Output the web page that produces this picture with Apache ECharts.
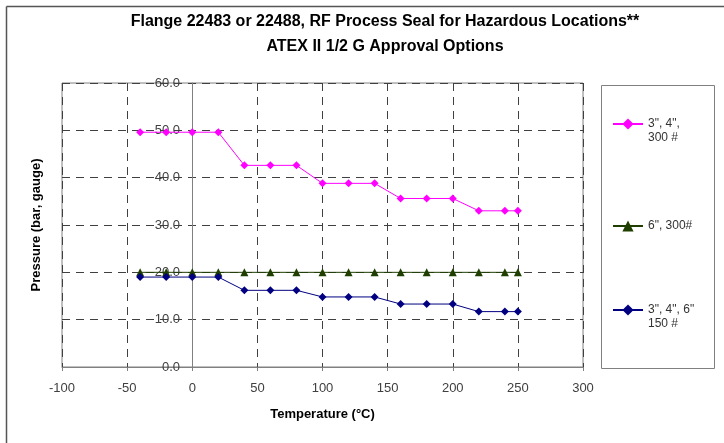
<!DOCTYPE html>
<html>
<head>
<meta charset="utf-8">
<script src="https://cdn.jsdelivr.net/npm/echarts@6/dist/echarts.min.js"></script>
<style>
html,body{margin:0;padding:0;background:#fff;}
#main{width:724px;height:443px;}
</style>
</head>
<body>
<div id="main"></div>
<script>
var titleText = 'Flange 22483 or 22488, RF Process Seal for Hazardous Locations**\nATEX II 1/2 G Approval Options';
var xName = 'Temperature (\u00B0C)';
var yName = 'Pressure (bar, gauge)';
var temps = [-40, -20, 0, 20, 40, 60, 80, 100, 120, 140, 160, 180, 200, 220, 240, 250];
var class300small = [49.6, 49.6, 49.6, 49.6, 42.6, 42.6, 42.6, 38.8, 38.8, 38.8, 35.6, 35.6, 35.6, 33.0, 33.0, 33.0];
var class300six = [20.0, 20.0, 20.0, 20.0, 20.0, 20.0, 20.0, 20.0, 20.0, 20.0, 20.0, 20.0, 20.0, 20.0, 20.0, 20.0];
var class150 = [19.0, 19.0, 19.0, 19.0, 16.2, 16.2, 16.2, 14.8, 14.8, 14.8, 13.3, 13.3, 13.3, 11.7, 11.7, 11.7];
var seriesNames = ['3", 4",\n300 #', '6", 300#', '3", 4", 6"\n150 #'];

function pairs(xs, ys) {
  return xs.map(function (x, i) { return [x, ys[i]]; });
}

var font = 'Arial, "Liberation Sans", sans-serif';
var chart = echarts.init(document.getElementById('main'), null, {renderer: 'canvas'});

function legendAt(name, top) {
  return {
    data: [name],
    left: 612, top: top, padding: 0,
    itemWidth: 30, itemHeight: 14, itemGap: 0,
    formatter: function (n) { return n.indexOf('\n') >= 0 ? '\n' + n : n; },
    textStyle: {fontFamily: font, fontSize: 12, color: '#333', lineHeight: 14}
  };
}

chart.setOption({
  animation: false,
  backgroundColor: '#fff',
  title: {
    text: titleText,
    left: 380, top: 4, textAlign: 'center',
    textStyle: {fontFamily: font, fontSize: 16, fontWeight: 'bold', color: '#000', lineHeight: 25}
  },
  grid: {left: 62, top: 83, width: 521, height: 284, show: true, borderColor: '#808080', borderWidth: 1,
    containLabel: false, outerBoundsMode: 'none'},
  legend: [
    legendAt(seriesNames[0], 103),
    legendAt(seriesNames[1], 219),
    legendAt(seriesNames[2], 289)
  ],
  xAxis: {
    type: 'value', min: -100, max: 300, interval: 50,
    name: xName, nameLocation: 'middle', nameGap: 41,
    nameTextStyle: {fontFamily: font, fontSize: 13, fontWeight: 'bold', color: '#000'},
    axisLine: {show: true, onZero: false, lineStyle: {color: '#808080'}},
    axisTick: {show: true, length: 4, lineStyle: {color: '#808080'}},
    axisLabel: {fontFamily: font, fontSize: 13, color: '#404040', margin: 15},
    splitLine: {show: true, lineStyle: {color: '#404040', type: [8, 6], width: 1}}
  },
  yAxis: {
    type: 'value', min: 0, max: 60, interval: 10,
    name: yName, nameLocation: 'middle', nameGap: 19, nameRotate: 90,
    nameTextStyle: {fontFamily: font, fontSize: 13, fontWeight: 'bold', color: '#000'},
    axisLine: {show: true, onZero: true, lineStyle: {color: '#808080'}},
    axisTick: {show: false},
    axisLabel: {fontFamily: font, fontSize: 13, color: '#404040', margin: -118,
      formatter: function (v) { return v.toFixed(1); }},
    splitLine: {show: true, lineStyle: {color: '#404040', type: [8, 6], width: 1}}
  },
  graphic: [
    {type: 'rect', shape: {x: 601.5, y: 85.5, width: 113, height: 283}, style: {fill: 'none', stroke: '#808080', lineWidth: 1}, silent: true},
    {type: 'line', shape: {x1: 6.5, y1: 6.5, x2: 724, y2: 6.5}, style: {stroke: '#555', lineWidth: 1.5}, silent: true},
    {type: 'line', shape: {x1: 6.5, y1: 6.5, x2: 6.5, y2: 443}, style: {stroke: '#555', lineWidth: 1.5}, silent: true}
  ],
  series: [
    {name: seriesNames[0], type: 'line', data: pairs(temps, class300small), symbol: 'diamond', symbolSize: 8,
      itemStyle: {color: '#FF00FF'}, lineStyle: {color: '#FF00FF', width: 1}},
    {name: seriesNames[1], type: 'line', data: pairs(temps, class300six), symbol: 'triangle', symbolSize: 8,
      itemStyle: {color: '#1F3F00'}, lineStyle: {color: '#1F3F00', width: 1}},
    {name: seriesNames[2], type: 'line', data: pairs(temps, class150), symbol: 'diamond', symbolSize: 8,
      itemStyle: {color: '#000080'}, lineStyle: {color: '#000080', width: 1}}
  ]
});
</script>
</body>
</html>
